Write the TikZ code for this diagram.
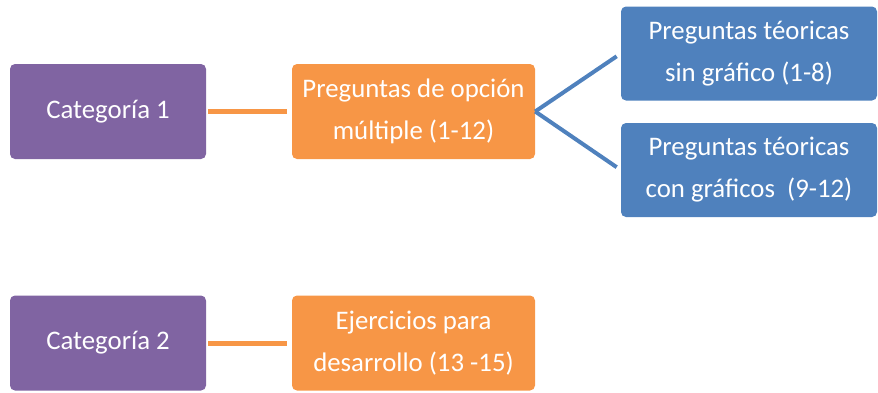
\documentclass[tikz,border=0pt]{standalone}
\usepackage{fontspec}
\setmainfont{Carlito}
\definecolor{cpurple}{HTML}{8064A2}
\definecolor{corange}{HTML}{F79646}
\definecolor{cblue}{HTML}{4F81BD}
\begin{document}
\begin{tikzpicture}[x=1pt,y=-1pt,
  box/.style={rounded corners=5pt, text=white, align=center, inner sep=0pt,
    font=\fontsize{26.8}{42}\selectfont},
  catbox/.style={box, fill=cpurple, minimum width=196pt, minimum height=95pt},
  orbox/.style={box, fill=corange, minimum width=243pt, minimum height=95pt},
  blbox/.style={box, fill=cblue, minimum width=256pt, minimum height=94pt},
  orline/.style={draw=corange, line width=5pt, shorten <=2pt, shorten >=5pt},
  blline/.style={draw=cblue, line width=4pt, shorten >=5pt}]
\useasboundingbox (0,0) rectangle (878,392);
\node[catbox] (c1) at (108,111.5) {Categoría 1};
\node[orbox] (om) at (413.5,111.5) {Preguntas de opción\\múltiple (1-12)};
\node[blbox] (t1) at (749,53.5) {Preguntas téoricas\\sin gráfico (1-8)};
\node[blbox] (t2) at (749,170) {Preguntas téoricas\\con gráficos\ \ (9-12)};
\node[catbox] (c2) at (108,343) {Categoría 2};
\node[orbox] (ej) at (413.5,343) {Ejercicios para\\desarrollo (13 -15)};
\draw[orline] (c1) -- (om);
\draw[orline] (c2) -- (ej);
\draw[blline] (om.east) -- (t1.west);
\draw[blline] (om.east) -- (t2.west);
\end{tikzpicture}
\end{document}
